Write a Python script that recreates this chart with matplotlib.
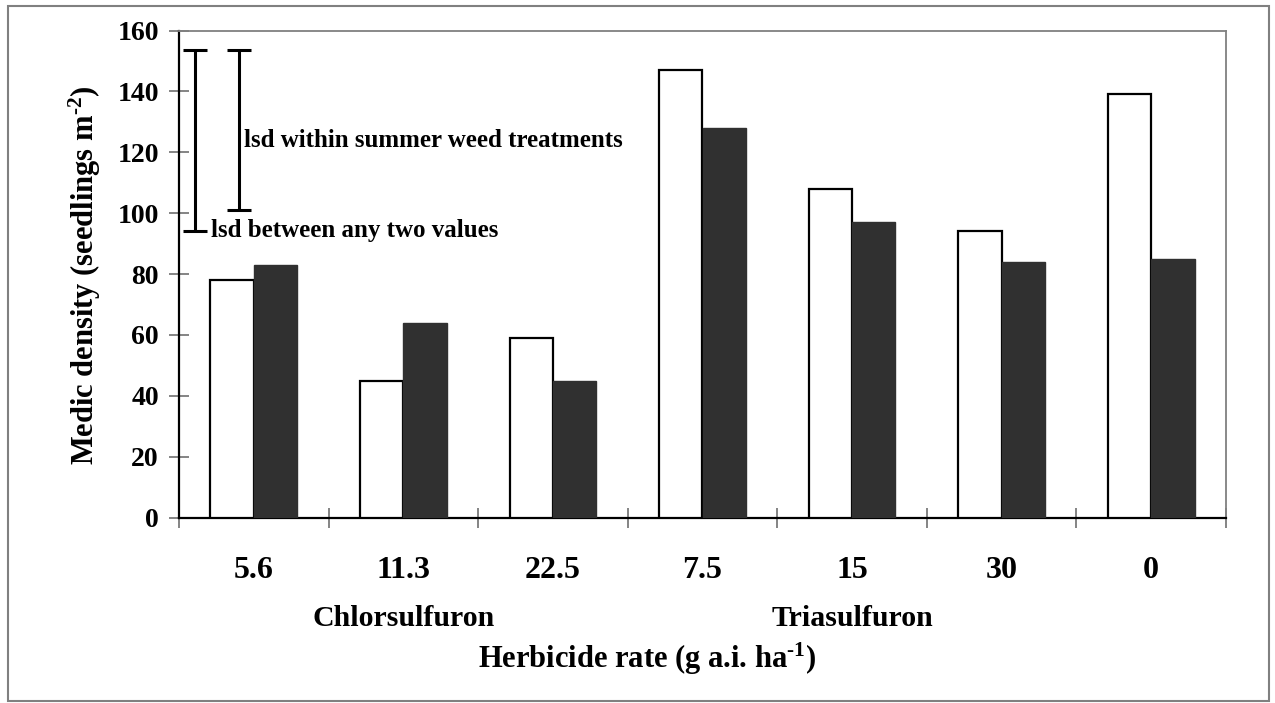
import matplotlib
matplotlib.use("Agg")
import matplotlib.pyplot as plt
import matplotlib.patches as mpatches
import matplotlib.transforms as mtransforms
import numpy as np

# Herbicide rates (g a.i. ha-1) and the herbicide each belongs to
rates = ["5.6", "11.3", "22.5", "7.5", "15", "30", "0"]
herbicides = ["Chlorsulfuron", "Triasulfuron"]
herbicide_centre = [1, 4]

# Medic density (seedlings m-2) for the two summer weed treatments
open_bars = [78, 45, 59, 147, 108, 94, 139]
filled_bars = [83, 64, 45, 128, 97, 84, 85]

# Least significant differences
lsd_between = 59.3
lsd_within = 52.6
lsd_top = 153.5

plt.rcParams["font.family"] = ["Liberation Serif", "DejaVu Serif"]
plt.rcParams["font.weight"] = "bold"
plt.rcParams["mathtext.fontset"] = "custom"
plt.rcParams["mathtext.rm"] = "Liberation Serif:bold"
plt.rcParams["mathtext.it"] = "Liberation Serif:bold"
plt.rcParams["mathtext.bf"] = "Liberation Serif:bold"
plt.rcParams["mathtext.default"] = "rm"

fig = plt.figure(figsize=(12.75, 7.03), dpi=100)
ax = fig.add_axes([179 / 1275, 185.5 / 703, 1047 / 1275, 487 / 703])

x = np.arange(len(rates))
w = 0.29
ax.bar(x - w / 2, open_bars, width=w, color="white", edgecolor="black",
       linewidth=1.6, zorder=3)
ax.bar(x + w / 2, filled_bars, width=w, color="#303030", edgecolor="#303030",
       linewidth=1.0, zorder=3)

ax.set_xlim(-0.5, len(rates) - 0.5)
ax.set_ylim(0, 160)

# lsd bars
ax.errorbar([-0.393], [lsd_top - lsd_between / 2], yerr=[lsd_between / 2],
            fmt="none", ecolor="black", elinewidth=2.2, capsize=8.5,
            capthick=2.2, zorder=4)
ax.errorbar([-0.099], [lsd_top - lsd_within / 2], yerr=[lsd_within / 2],
            fmt="none", ecolor="black", elinewidth=2.2, capsize=8.5,
            capthick=2.2, zorder=4)
ax.text(-0.065, 124, "lsd within summer weed treatments", fontsize=18,
        fontweight="bold", ha="left", va="center")
ax.text(-0.285, lsd_top - lsd_between, "lsd between any two values",
        fontsize=18, fontweight="bold", ha="left", va="center")

# y axis
ax.set_yticks(np.arange(0, 161, 20))
ax.tick_params(axis="y", which="major", direction="inout", length=14,
               width=1.2, color="#707070", pad=7.5, labelsize=20)

# x axis: group boundaries as minor ticks, rate labels as major
ax.set_xticks(x)
ax.set_xticklabels(rates)
ax.set_xticks(np.arange(-0.5, len(rates), 1.0), minor=True)
ax.tick_params(axis="x", which="major", length=0, pad=27.5, labelsize=23)
ax.tick_params(axis="x", which="minor", direction="inout", length=14,
               width=1.2, color="#707070")

for side in ("left", "bottom"):
    ax.spines[side].set_color("black")
    ax.spines[side].set_linewidth(1.6)
for side in ("top", "right"):
    ax.spines[side].set_color("#808080")
    ax.spines[side].set_linewidth(1.3)

# herbicide names under their rate groups
group_trans = mtransforms.blended_transform_factory(ax.transData,
                                                    fig.transFigure)
for name, cx in zip(herbicides, herbicide_centre):
    ax.text(cx, 77 / 703, name, transform=group_trans, fontsize=21.5,
            fontweight="bold", ha="center", va="baseline")

fig.text(647 / 1275, 35 / 703, r"Herbicide rate (g a.i. ha$^{\text{-1}}$)",
         fontsize=22, fontweight="bold", ha="center", va="baseline")
fig.text(85 / 1275, 428 / 703, r"Medic density (seedlings m$^{\text{-2}}$)",
         fontsize=22, fontweight="bold", ha="center", va="center",
         rotation=90)

# outer frame
fig.patches.append(mpatches.Rectangle((8 / 1275, 2 / 703),
                                      1261 / 1275, 695 / 703,
                                      transform=fig.transFigure, fill=False,
                                      edgecolor="#808080", linewidth=1.5))

fig.savefig("out.png", dpi=100)
